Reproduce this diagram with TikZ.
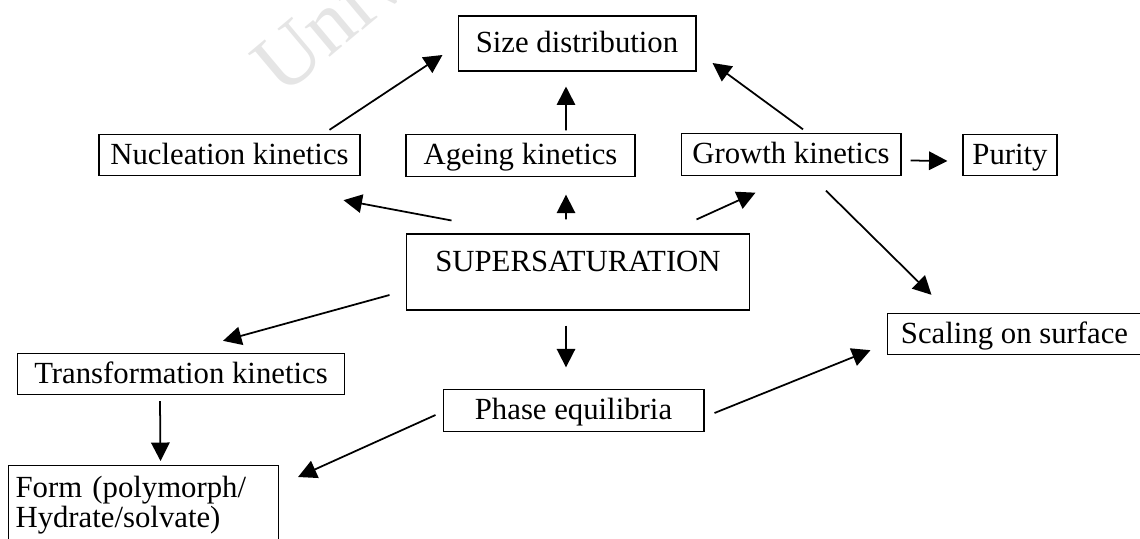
\documentclass[tikz,border=0pt]{standalone}
\usepackage{fontspec}
\setmainfont{Liberation Serif}
\usetikzlibrary{arrows.meta,calc}

\begin{document}
\begin{tikzpicture}[x=0.02cm,y=-0.02cm,line width=1pt,>={Triangle[length=10.5pt,width=10.5pt]},
  box/.style={draw,line width=0.6pt,inner sep=3pt,text height=14pt,text depth=3.5pt,font=\fontsize{17.5}{17}\selectfont},
  link/.style={->,line width=1pt}]
\useasboundingbox (0,0) rectangle (1140,538);
\clip (0,0) rectangle (1140,538);
% ---------- watermark ----------
\node[text=black!10,rotate=40,anchor=south west,font=\fontsize{48}{48}\selectfont] (mark) at (282,108) {Univ};
% ---------- boxes ----------
\node[box,minimum width=4.76cm,minimum height=1.1cm] (size) at (577,43.5) {Size distribution};
\node[box,minimum width=5.22cm,minimum height=0.76cm] (nuc) at (229.5,155) {Nucleation kinetics};
\node[box,minimum width=4.58cm,minimum height=0.78cm] (age) at (520.5,155.5) {Ageing kinetics};
\node[box,minimum width=4.4cm,minimum height=0.78cm] (growth) at (791,154.5) {Growth kinetics};
\node[box,minimum width=1.88cm,minimum height=0.8cm] (purity) at (1010,155) {Purity};
\node[box,minimum width=6.88cm,minimum height=1.52cm,text height=12pt,text depth=13pt] (super) at (578,272) {SUPERSATURATION};
\node[box,minimum width=5.1cm,minimum height=0.76cm] (scaling) at (1014.5,334) {Scaling on surface};
\node[box,minimum width=6.56cm,minimum height=0.8cm] (trans) at (181,374) {Transformation kinetics};
\node[box,minimum width=5.22cm,minimum height=0.74cm] (phase) at (573.5,410.5) {Phase equilibria};
\node[box,text height=,text depth=,inner xsep=4pt,inner ysep=6pt,text width=5.12cm,align=left,anchor=north west] (form) at (8,465) {Form (polymorph/\\Hydrate/solvate)};
% ---------- arrows ----------
\draw[link] ($(nuc.north east)+(-31,-4)$) -- ($(size.west)+(-15,11.5)$);
\draw[link] ($(age.north)+(45.5,-4)$) -- ($(size.south)+(-11,15)$);
\draw[link] ($(growth.north)+(12,-4)$) -- ($(size.east)+(16,19.5)$);
\draw[link] ($(growth.east)+(9,6)$) -- ($(purity.west)+(-15,6)$);
\draw[link] ($(super.north west)+(46,-13)$) -- ($(nuc.south east)+(-17,24)$);
\draw[link] ($(super.north)+(-12,-14)$) -- ($(age.south)+(45.5,18)$);
\draw[link] ($(super.north east)+(-54,-14)$) -- ($(growth.south west)+(75,17)$);
\draw[link] ($(growth.south)+(35,15)$) -- ($(scaling.north west)+(45,-18)$);
\draw[link] ($(super.west)+(-16,23)$) -- ($(trans.north)+(42,-12)$);
\draw[link] ($(super.south)+(-12,15)$) -- ($(phase.north)+(-7.5,-22)$);
\draw[link] ($(trans.south)+(-21,6)$) -- ($(form.north)+(17,-4)$);
\draw[link] ($(phase.west)+(-7,4.5)$) -- ($(form.north east)+(19,12)$);
\draw[link] ($(phase.east)+(10,2.5)$) -- ($(scaling.south west)+(-16,-5)$);
\end{tikzpicture}
\end{document}
